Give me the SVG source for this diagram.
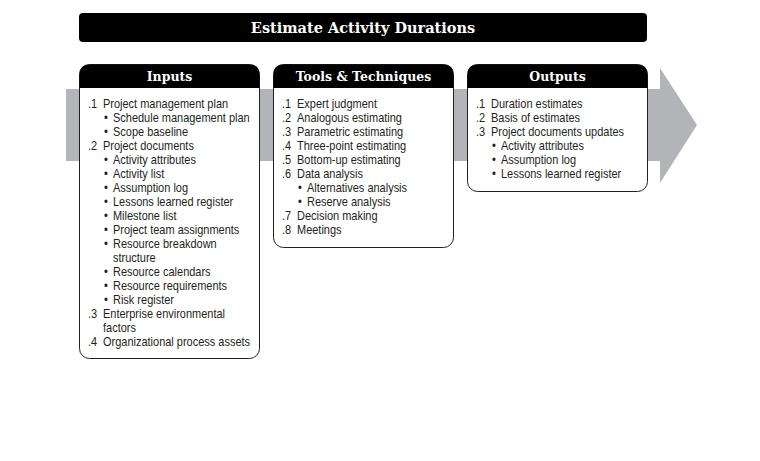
<svg xmlns="http://www.w3.org/2000/svg" width="760" height="461" viewBox="0 0 760 461">
  <style>
    .hdr { font-family: "DejaVu Serif", "Liberation Serif", serif; font-weight: bold; fill: #ffffff; text-anchor: middle; }
    .item { font-family: "Liberation Sans Narrow", "Liberation Sans", Arial, sans-serif; font-size: 12px; fill: #231f20; }
    .box { fill: #ffffff; stroke: #231f20; stroke-width: 1; }
    .cap { fill: #000000; }
  </style>

  <rect width="760" height="461" fill="#ffffff"/>

  <!-- process flow arrow behind the three boxes -->
  <g id="flow-arrow">
    <polygon points="66,89 660,89 660,68 697,125 660,183 660,161 66,161" fill="#b2b4b7"/>
  </g>

  <!-- title banner -->
  <g id="title">
    <rect x="79" y="13" width="568" height="29" rx="4" ry="4" class="cap"/>
    <text x="363" y="33" class="hdr" font-size="14.5">Estimate Activity Durations</text>
  </g>

  <!-- Inputs (list text condensed horizontally; local x: 0 = number, 16.4 = text, 17.5 = bullet, 27.3 = bullet text) -->
  <g id="inputs">
    <rect x="79.5" y="64.5" width="180" height="294" rx="10" ry="10" class="box"/>
    <path d="M79.5,88 V74.5 Q79.5,64.5 89.5,64.5 H249.5 Q259.5,64.5 259.5,74.5 V88 Z" class="cap"/>
    <text x="169.5" y="81" class="hdr" font-size="12.5">Inputs</text>
    <g class="item" transform="translate(88 0) scale(0.915 1)">
      <text x="0" y="108">.1</text><text x="16.4" y="108">Project management plan</text>
      <text x="17.5" y="122">•</text><text x="27.3" y="122">Schedule management plan</text>
      <text x="17.5" y="136">•</text><text x="27.3" y="136">Scope baseline</text>
      <text x="0" y="150">.2</text><text x="16.4" y="150">Project documents</text>
      <text x="17.5" y="164">•</text><text x="27.3" y="164">Activity attributes</text>
      <text x="17.5" y="178">•</text><text x="27.3" y="178">Activity list</text>
      <text x="17.5" y="192">•</text><text x="27.3" y="192">Assumption log</text>
      <text x="17.5" y="206">•</text><text x="27.3" y="206">Lessons learned register</text>
      <text x="17.5" y="220">•</text><text x="27.3" y="220">Milestone list</text>
      <text x="17.5" y="234">•</text><text x="27.3" y="234">Project team assignments</text>
      <text x="17.5" y="248">•</text><text x="27.3" y="248">Resource breakdown</text>
      <text x="27.3" y="262">structure</text>
      <text x="17.5" y="276">•</text><text x="27.3" y="276">Resource calendars</text>
      <text x="17.5" y="290">•</text><text x="27.3" y="290">Resource requirements</text>
      <text x="17.5" y="304">•</text><text x="27.3" y="304">Risk register</text>
      <text x="0" y="318">.3</text><text x="16.4" y="318">Enterprise environmental</text>
      <text x="16.4" y="332">factors</text>
      <text x="0" y="346">.4</text><text x="16.4" y="346">Organizational process assets</text>
    </g>
  </g>

  <!-- Tools & Techniques -->
  <g id="tools">
    <rect x="273.5" y="64.5" width="180" height="183" rx="10" ry="10" class="box"/>
    <path d="M273.5,88 V74.5 Q273.5,64.5 283.5,64.5 H443.5 Q453.5,64.5 453.5,74.5 V88 Z" class="cap"/>
    <text x="363.5" y="81" class="hdr" font-size="12.5">Tools &amp; Techniques</text>
    <g class="item" transform="translate(282 0) scale(0.915 1)">
      <text x="0" y="108">.1</text><text x="16.4" y="108">Expert judgment</text>
      <text x="0" y="122">.2</text><text x="16.4" y="122">Analogous estimating</text>
      <text x="0" y="136">.3</text><text x="16.4" y="136">Parametric estimating</text>
      <text x="0" y="150">.4</text><text x="16.4" y="150">Three-point estimating</text>
      <text x="0" y="164">.5</text><text x="16.4" y="164">Bottom-up estimating</text>
      <text x="0" y="178">.6</text><text x="16.4" y="178">Data analysis</text>
      <text x="17.5" y="192">•</text><text x="27.3" y="192">Alternatives analysis</text>
      <text x="17.5" y="206">•</text><text x="27.3" y="206">Reserve analysis</text>
      <text x="0" y="220">.7</text><text x="16.4" y="220">Decision making</text>
      <text x="0" y="234">.8</text><text x="16.4" y="234">Meetings</text>
    </g>
  </g>

  <!-- Outputs -->
  <g id="outputs">
    <rect x="467.5" y="64.5" width="180" height="127" rx="10" ry="10" class="box"/>
    <path d="M467.5,88 V74.5 Q467.5,64.5 477.5,64.5 H637.5 Q647.5,64.5 647.5,74.5 V88 Z" class="cap"/>
    <text x="557.5" y="81" class="hdr" font-size="12.5">Outputs</text>
    <g class="item" transform="translate(476 0) scale(0.915 1)">
      <text x="0" y="108">.1</text><text x="16.4" y="108">Duration estimates</text>
      <text x="0" y="122">.2</text><text x="16.4" y="122">Basis of estimates</text>
      <text x="0" y="136">.3</text><text x="16.4" y="136">Project documents updates</text>
      <text x="17.5" y="150">•</text><text x="27.3" y="150">Activity attributes</text>
      <text x="17.5" y="164">•</text><text x="27.3" y="164">Assumption log</text>
      <text x="17.5" y="178">•</text><text x="27.3" y="178">Lessons learned register</text>
    </g>
  </g>

  <g id="connectors"/>
</svg>
